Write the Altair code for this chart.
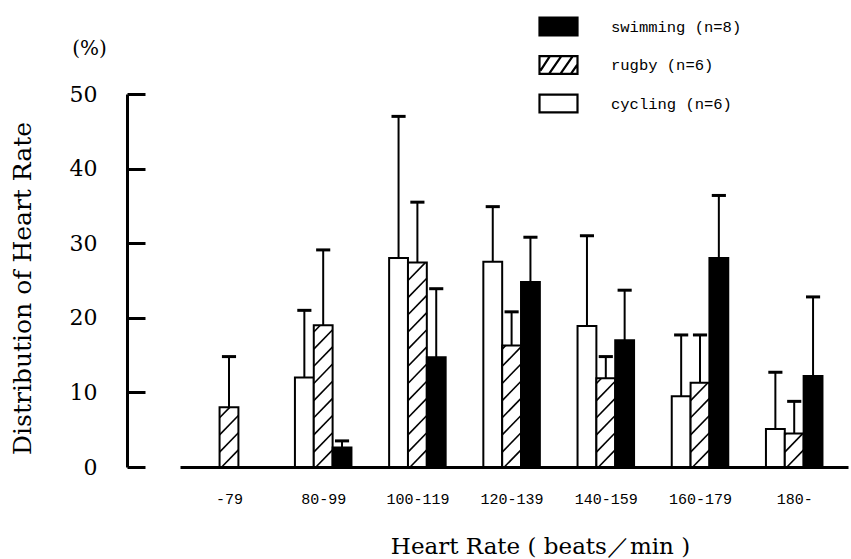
import altair as alt
import numpy as np
import pandas as pd

# ---- data ----
categories = ["-79", "80-99", "100-119", "120-139", "140-159", "160-179", "180-"]
sports = ["cycling (n=6)", "rugby (n=6)", "swimming (n=8)"]
cycling_mean = [None, 12.0, 28.0, 27.5, 18.9, 9.5, 5.1]
cycling_sd = [None, 9.0, 19.0, 7.4, 12.1, 8.2, 7.6]
rugby_mean = [8.0, 19.0, 27.4, 16.3, 11.9, 11.3, 4.5]
rugby_sd = [6.8, 10.1, 8.1, 4.5, 2.9, 6.4, 4.3]
swimming_mean = [None, 2.6, 14.7, 24.8, 17.0, 28.0, 12.2]
swimming_sd = [None, 0.9, 9.2, 6.0, 6.7, 8.4, 10.6]
y_ticks = [0, 10, 20, 30, 40, 50]
legend_order = ["swimming (n=8)", "rugby (n=6)", "cycling (n=6)"]

# ---- layout helpers (not data) ----
BW = 0.2      # bar width in category units
CAP = 0.075   # half width of error caps
HATCH_RISE = 2.6
HATCH_STEP = 2.3

means = {sports[0]: cycling_mean, sports[1]: rugby_mean, sports[2]: swimming_mean}
sds = {sports[0]: cycling_sd, sports[1]: rugby_sd, sports[2]: swimming_sd}

rows = []
for i, cat in enumerate(categories):
    for j, sp in enumerate(sports):
        m = means[sp][i]
        s = sds[sp][i]
        if m is None:
            continue
        x0 = i + (j - 1.5) * BW
        rows.append(dict(cat=cat, sport=sp, mean=m, upper=m + s, base=0.0,
                         x0=x0, x1=x0 + BW, xc=x0 + BW / 2,
                         cl=x0 + BW / 2 - CAP, cr=x0 + BW / 2 + CAP))
df = pd.DataFrame(rows)

# hatch segments for rugby bars, clipped to each bar
hrows = []
for r in df[df.sport == sports[1]].itertuples():
    y0 = -HATCH_RISE
    while y0 < r.mean:
        t0 = max(0.0, (0 - y0) / HATCH_RISE)
        t1 = min(1.0, (r.mean - y0) / HATCH_RISE)
        if t1 > t0:
            hrows.append(dict(hx1=r.x0 + t0 * BW, hx2=r.x0 + t1 * BW,
                              hy1=y0 + t0 * HATCH_RISE, hy2=y0 + t1 * HATCH_RISE))
        y0 += HATCH_STEP
hdf = pd.DataFrame(hrows)

label_expr = "[" + ",".join("'%s'" % c for c in categories) + "][datum.value]"

rect_path = "M-1,-0.47H1V0.47H-1Z"
hatch_path = ("M-1,-0.47H1V0.47H-1Z"
              "M-0.95,0.3L-0.45,-0.47M-0.5,0.47L0.15,-0.47"
              "M0.1,0.47L0.75,-0.47M0.65,0.47L0.98,0.0")

fill_scale = alt.Scale(domain=legend_order, range=["black", "white", "white"])
stroke_scale = alt.Scale(domain=legend_order, range=["black", "black", "black"])
shape_scale = alt.Scale(domain=legend_order, range=[rect_path, hatch_path, rect_path])

legend = alt.Legend(title=None, orient="none", legendX=358, legendY=-88,
                    symbolSize=1444, symbolStrokeColor="black", symbolStrokeWidth=2.2,
                    symbolOpacity=1, labelFont="Liberation Mono", labelFontSize=15.5,
                    labelColor="black", labelOffset=32, rowPadding=4.5, padding=0)

x_scale = alt.Scale(domain=[-0.52, 6.571], nice=False, zero=False)
y_scale = alt.Scale(domain=[0, 50], nice=False, zero=True)

x_axis = alt.Axis(values=list(range(len(categories))), labelExpr=label_expr,
                  ticks=False, grid=False, domain=True, domainColor="black",
                  domainWidth=3, labelFont="Liberation Mono", labelFontSize=15,
                  labelColor="black", labelPadding=24, labelOffset=0,
                  labelOverlap=False, labelFlush=False,
                  title="Heart Rate ( beats／min )", titleFont="DejaVu Serif",
                  titleFontSize=23, titleFontWeight="normal", titleColor="black",
                  titleX=360, titleY=86, titleBaseline="alphabetic", titleAlign="center")

y_axis_line = alt.Axis(orient="left", offset=53, domain=True, domainColor="black",
                       domainWidth=3, ticks=False, labels=False, grid=False,
                       title="Distribution of Heart Rate", titleFont="DejaVu Serif",
                       titleFontSize=25, titleFontWeight="normal", titleColor="black",
                       titleX=-105, titleY=194, titleAngle=270,
                       titleAlign="center", titleBaseline="middle")

y_axis_ticks = alt.Axis(orient="left", offset=35, domain=False, grid=False,
                        values=y_ticks, ticks=True, tickSize=18, tickWidth=3,
                        tickColor="black", labelFont="DejaVu Serif", labelFontSize=22,
                        labelColor="black", labelPadding=30,
                        title="(%)", titleFont="DejaVu Serif", titleFontSize=20,
                        titleFontWeight="normal", titleColor="black", titleAngle=0,
                        titleX=-56, titleY=-46, titleAlign="center",
                        titleBaseline="middle")

points = alt.Chart(df).mark_point(filled=True, opacity=0).encode(
    x=alt.X("xc:Q", scale=x_scale, axis=x_axis),
    y=alt.Y("mean:Q", scale=y_scale, axis=None),
    fill=alt.Fill("sport:N", scale=fill_scale, legend=legend),
    stroke=alt.Stroke("sport:N", scale=stroke_scale, legend=legend),
    shape=alt.Shape("sport:N", scale=shape_scale, legend=legend),
)

bars = alt.Chart(df).mark_rect(stroke="black", strokeWidth=2).encode(
    x=alt.X("x0:Q", scale=x_scale, axis=x_axis),
    x2="x1:Q",
    y=alt.Y("mean:Q", scale=y_scale, axis=y_axis_line),
    y2="base:Q",
    fill=alt.Fill("sport:N", scale=fill_scale, legend=legend),
)

hatch = alt.Chart(hdf).mark_rule(color="black", strokeWidth=1.6).encode(
    x=alt.X("hx1:Q", scale=x_scale, axis=x_axis),
    x2="hx2:Q",
    y=alt.Y("hy1:Q", scale=y_scale, axis=None),
    y2="hy2:Q",
)

err = alt.Chart(df).mark_rule(color="black", strokeWidth=2).encode(
    x=alt.X("xc:Q", scale=x_scale, axis=x_axis),
    y=alt.Y("mean:Q", scale=y_scale, axis=y_axis_ticks),
    y2="upper:Q",
)

caps = alt.Chart(df).mark_rule(color="black", strokeWidth=3).encode(
    x=alt.X("cl:Q", scale=x_scale, axis=x_axis),
    x2="cr:Q",
    y=alt.Y("upper:Q", scale=y_scale, axis=None),
)

chart = alt.layer(points, bars, hatch, err, caps).resolve_axis(
    y="independent"
).properties(
    width=668, height=373,
    autosize=alt.AutoSizeParams(type="none"),
    padding={"left": 180, "top": 94, "right": 3, "bottom": 92},
    background="white",
).configure_view(stroke=None)

chart.save("out.html", embed_options={"renderer": "svg", "actions": False})
